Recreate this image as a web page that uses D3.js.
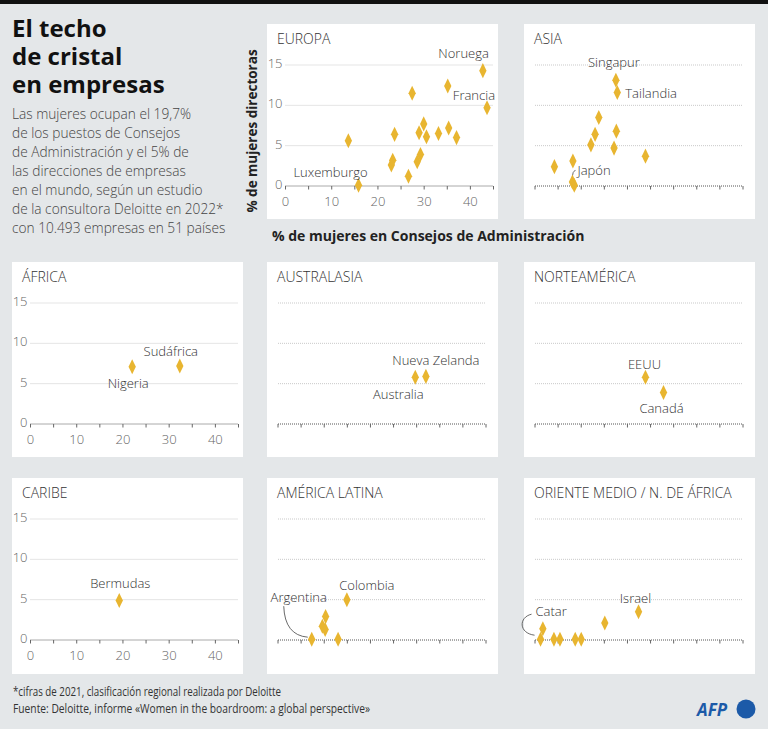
<!DOCTYPE html>
<html>
<head>
<meta charset="utf-8">
<script src="https://cdn.jsdelivr.net/npm/d3@7"></script>
<style>
  body { margin: 0; background: #e4e7e9; }
  svg { display: block; font-family: "Open Sans", "Noto Sans", sans-serif; }
</style>
</head>
<body>
<div id="chart"></div>
<script>
// data: x = % mujeres en consejos, y = % mujeres directoras
var europaNames  = ["Noruega", "", "", "Francia", "", "", "", "", "", "", "", "", "", "", "", "", "", "Luxemburgo"];
var europaBoards = [42.7, 35.1, 27.4, 43.6, 29.9, 35.3, 23.6, 28.9, 30.5, 33.1, 37.0, 13.6, 29.2, 23.2, 22.9, 28.5, 26.6, 15.8];
var europaCeos   = [14.3, 12.4, 11.5, 9.7, 7.7, 7.2, 6.4, 6.6, 6.1, 6.5, 6.0, 5.6, 3.9, 3.2, 2.6, 3.0, 1.2, 0.1];

var asiaNames  = ["Singapur", "Tailandia", "", "", "", "", "", "", "", "", "Japón", ""];
var asiaBoards = [17.5, 17.8, 13.8, 13.0, 17.6, 12.1, 17.1, 23.9, 4.2, 8.2, 8.1, 8.5];
var asiaCeos   = [13.1, 11.6, 8.5, 6.4, 6.8, 5.1, 4.7, 3.7, 2.4, 3.1, 0.5, 0.1];

var africaNames  = ["Sudáfrica", "Nigeria"];
var africaBoards = [32.3, 22.0];
var africaCeos   = [7.2, 7.1];

var australNames  = ["Nueva Zelanda", "Australia"];
var australBoards = [32.0, 29.7];
var australCeos   = [5.9, 5.8];

var norteNames  = ["EEUU", "Canadá"];
var norteBoards = [23.9, 27.8];
var norteCeos   = [5.8, 3.9];

var caribeNames  = ["Bermudas"];
var caribeBoards = [19.2];
var caribeCeos   = [4.9];

var latamNames  = ["Colombia", "", "", "", "Argentina", ""];
var latamBoards = [14.9, 10.3, 9.6, 10.2, 7.3, 13.0];
var latamCeos   = [5.0, 2.9, 1.7, 1.3, 0.1, 0.1];

var orienteNames  = ["Israel", "", "Catar", "", "", "", "", ""];
var orienteBoards = [22.4, 15.1, 1.2, 1.7, 4.1, 5.4, 8.7, 10.0];
var orienteCeos   = [3.5, 2.1, 0.1, 1.4, 0.1, 0.1, 0.1, 0.1];

var xTicks = [0, 5, 10, 15, 20, 25, 30, 35, 40, 45];
var xTickLabels = [0, 10, 20, 30, 40];
var yTicks = [0, 5, 10, 15];

var W = 768, H = 729;
var gold = "#e8b530";

// layout of the small multiples
var panels = [
  {title: "EUROPA", names: europaNames, xs: europaBoards, ys: europaCeos, col: 1, row: 0, labels: true},
  {title: "ASIA", names: asiaNames, xs: asiaBoards, ys: asiaCeos, col: 2, row: 0, labels: false},
  {title: "ÁFRICA", names: africaNames, xs: africaBoards, ys: africaCeos, col: 0, row: 1, labels: true},
  {title: "AUSTRALASIA", names: australNames, xs: australBoards, ys: australCeos, col: 1, row: 1, labels: false},
  {title: "NORTEAMÉRICA", names: norteNames, xs: norteBoards, ys: norteCeos, col: 2, row: 1, labels: false},
  {title: "CARIBE", names: caribeNames, xs: caribeBoards, ys: caribeCeos, col: 0, row: 2, labels: true},
  {title: "AMÉRICA LATINA", names: latamNames, xs: latamBoards, ys: latamCeos, col: 1, row: 2, labels: false},
  {title: "ORIENTE MEDIO / N. DE ÁFRICA", names: orienteNames, xs: orienteBoards, ys: orienteCeos, col: 2, row: 2, labels: false}
];
var colLeft = [12, 267, 524], rowTop = [24, 262, 478];
var panelW = 231, panelH = 195;

// where each country label sits relative to its marker
var labelPos = {
  "Noruega": {dx: 6, dy: -13, anchor: "end"},
  "Francia": {dx: 8, dy: -8, anchor: "end"},
  "Luxemburgo": {dx: -28, dy: -8, anchor: "middle"},
  "Singapur": {dx: -2, dy: -13, anchor: "middle"},
  "Tailandia": {dx: 8, dy: 6, anchor: "start"},
  "Japón": {dx: 5, dy: -7, anchor: "start"},
  "Sudáfrica": {dx: -9, dy: -10, anchor: "middle"},
  "Nigeria": {dx: -4, dy: 21, anchor: "middle"},
  "Nueva Zelanda": {dx: 10, dy: -11, anchor: "middle"},
  "Australia": {dx: -17, dy: 22, anchor: "middle"},
  "EEUU": {dx: -1, dy: -8, anchor: "middle"},
  "Canadá": {dx: -2, dy: 20, anchor: "middle"},
  "Bermudas": {dx: 1, dy: -12, anchor: "middle"},
  "Colombia": {dx: 20, dy: -10, anchor: "middle"},
  "Argentina": {dx: -13, dy: -37, anchor: "middle"},
  "Israel": {dx: -3, dy: -9, anchor: "middle"},
  "Catar": {dx: -5, dy: -23, anchor: "start"}
};
var leaders = {
  "Japón": "M0,-6 Q0,-10 3,-12",
  "Argentina": "M-28,-33 Q-27,-4 -4,-2",
  "Catar": "M-9,-25 C-22,-22 -22,-6 -6,-4"
};

var svg = d3.select("#chart").append("svg")
    .attr("width", W)
    .attr("height", H);

svg.append("rect").attr("width", W).attr("height", H).attr("fill", "#e4e7e9");
svg.append("rect").attr("width", W).attr("height", 4).attr("fill", "#111");

// title block, one text per line
["El techo", "de cristal", "en empresas"].forEach(function (t, i) {
  svg.append("text")
      .attr("x", 12).attr("y", 37 + i * 28)
      .attr("font-weight", 700).attr("font-size", 24).attr("fill", "#111")
      .text(t);
});
var intro = [
  "Las mujeres ocupan el 19,7%",
  "de los puestos de Consejos",
  "de Administración y el 5% de",
  "las direcciones de empresas",
  "en el mundo, según un estudio",
  "de la consultora Deloitte en 2022*",
  "con 10.493 empresas en 51 países"
];
svg.append("g").selectAll("text")
    .data(intro)
    .enter()
    .append("text")
    .attr("x", 12)
    .attr("y", function (d, i) { return 119 + i * 19; })
    .attr("font-size", 13.7)
    .attr("font-weight", 300)
    .attr("fill", "#444")
    .text(function (d) { return d; });

// axis titles
svg.append("text")
    .attr("transform", "translate(257,131) rotate(-90)")
    .attr("text-anchor", "middle")
    .attr("font-weight", 700).attr("font-size", 13.5).attr("fill", "#222")
    .text("% de mujeres directoras");
svg.append("text")
    .attr("x", 272).attr("y", 241)
    .attr("font-weight", 700).attr("font-size", 14).attr("fill", "#222")
    .text("% de mujeres en Consejos de Administración");

var diamond = d3.symbol().type(d3.symbolDiamond).size(42);

panels.forEach(function (p) {
  var left = colLeft[p.col], top = rowTop[p.row];
  var g = svg.append("g");

  g.append("rect")
      .attr("x", left).attr("y", top)
      .attr("width", panelW).attr("height", p.row == 2 ? panelH + 1 : panelH)
      .attr("fill", "#fff");

  g.append("text")
      .attr("x", left + 10).attr("y", top + 20)
      .attr("font-size", 14).attr("font-weight", 300).attr("fill", "#333")
      .text(p.title);

  var x0 = left + (p.labels ? 18.5 : 11);
  var x = d3.scaleLinear().domain([0, 45]).range([x0, x0 + 208]);
  var y = d3.scaleLinear().domain([0, 15]).range([top + 162, top + 41]);

  // gridlines
  g.selectAll(".grid")
      .data(yTicks.slice(1))
      .enter()
      .append("line")
      .attr("x1", x(0)).attr("x2", x(45))
      .attr("y1", function (d) { return y(d); })
      .attr("y2", function (d) { return y(d); })
      .attr("stroke", "#c9c9c9")
      .attr("stroke-dasharray", "1,1");

  // baseline + ticks
  g.append("line")
      .attr("x1", x(0)).attr("x2", x(45))
      .attr("y1", y(0)).attr("y2", y(0))
      .attr("stroke", "#555")
      .attr("stroke-dasharray", "1,1");
  g.selectAll(".tick")
      .data(xTicks)
      .enter()
      .append("line")
      .attr("x1", function (d) { return x(d); })
      .attr("x2", function (d) { return x(d); })
      .attr("y1", y(0)).attr("y2", y(0) + 3.5)
      .attr("stroke", "#666");

  if (p.labels) {
    g.selectAll(".xl")
        .data(xTickLabels)
        .enter()
        .append("text")
        .attr("x", function (d) { return x(d); })
        .attr("y", y(0) + 20)
        .attr("text-anchor", "middle")
        .attr("font-size", 13).attr("font-weight", 300).attr("fill", "#666")
        .text(function (d) { return d; });
    g.selectAll(".yl")
        .data(yTicks)
        .enter()
        .append("text")
        .attr("x", x(0) - 3)
        .attr("y", function (d) { return y(d) + 3; })
        .attr("text-anchor", "end")
        .attr("font-size", 13).attr("font-weight", 300).attr("fill", "#666")
        .text(function (d) { return d; });
  }

  var pts = p.xs.map(function (v, i) { return {name: p.names[i], x: v, y: p.ys[i]}; });

  // leader lines
  g.selectAll(".leader")
      .data(pts.filter(function (d) { return leaders[d.name]; }))
      .enter()
      .append("path")
      .attr("transform", function (d) { return "translate(" + x(d.x) + "," + y(d.y) + ")"; })
      .attr("d", function (d) { return leaders[d.name]; })
      .attr("fill", "none")
      .attr("stroke", "#444")
      .attr("stroke-width", 0.8);

  g.selectAll(".pt")
      .data(pts)
      .enter()
      .append("path")
      .attr("transform", function (d) { return "translate(" + x(d.x) + "," + y(d.y) + ") scale(1.05,1.25)"; })
      .attr("d", diamond)
      .attr("fill", gold);

  g.selectAll(".lbl")
      .data(pts.filter(function (d) { return d.name; }))
      .enter()
      .append("text")
      .attr("x", function (d) { return x(d.x) + labelPos[d.name].dx; })
      .attr("y", function (d) { return y(d.y) + labelPos[d.name].dy; })
      .attr("text-anchor", function (d) { return labelPos[d.name].anchor; })
      .attr("font-size", 13).attr("font-weight", 300).attr("fill", "#333")
      .text(function (d) { return d.name; });
});

// footer
svg.append("text")
    .attr("x", 13).attr("y", 696)
    .attr("font-size", 12).attr("fill", "#333")
    .attr("textLength", 268).attr("lengthAdjust", "spacingAndGlyphs")
    .text("*cifras de 2021, clasificación regional realizada por Deloitte");
svg.append("text")
    .attr("x", 13).attr("y", 713)
    .attr("font-size", 12).attr("fill", "#333")
    .attr("textLength", 357).attr("lengthAdjust", "spacingAndGlyphs")
    .text("Fuente: Deloitte, informe «Women in the boardroom: a global perspective»");

svg.append("text")
    .attr("x", 697).attr("y", 716)
    .attr("font-size", 17).attr("font-weight", 700).attr("font-style", "italic")
    .attr("fill", "#1c5aa8")
    .text("AFP");
svg.append("circle")
    .attr("cx", 746).attr("cy", 709).attr("r", 9.5)
    .attr("fill", "#1c5aa8");
</script>
</body>
</html>
